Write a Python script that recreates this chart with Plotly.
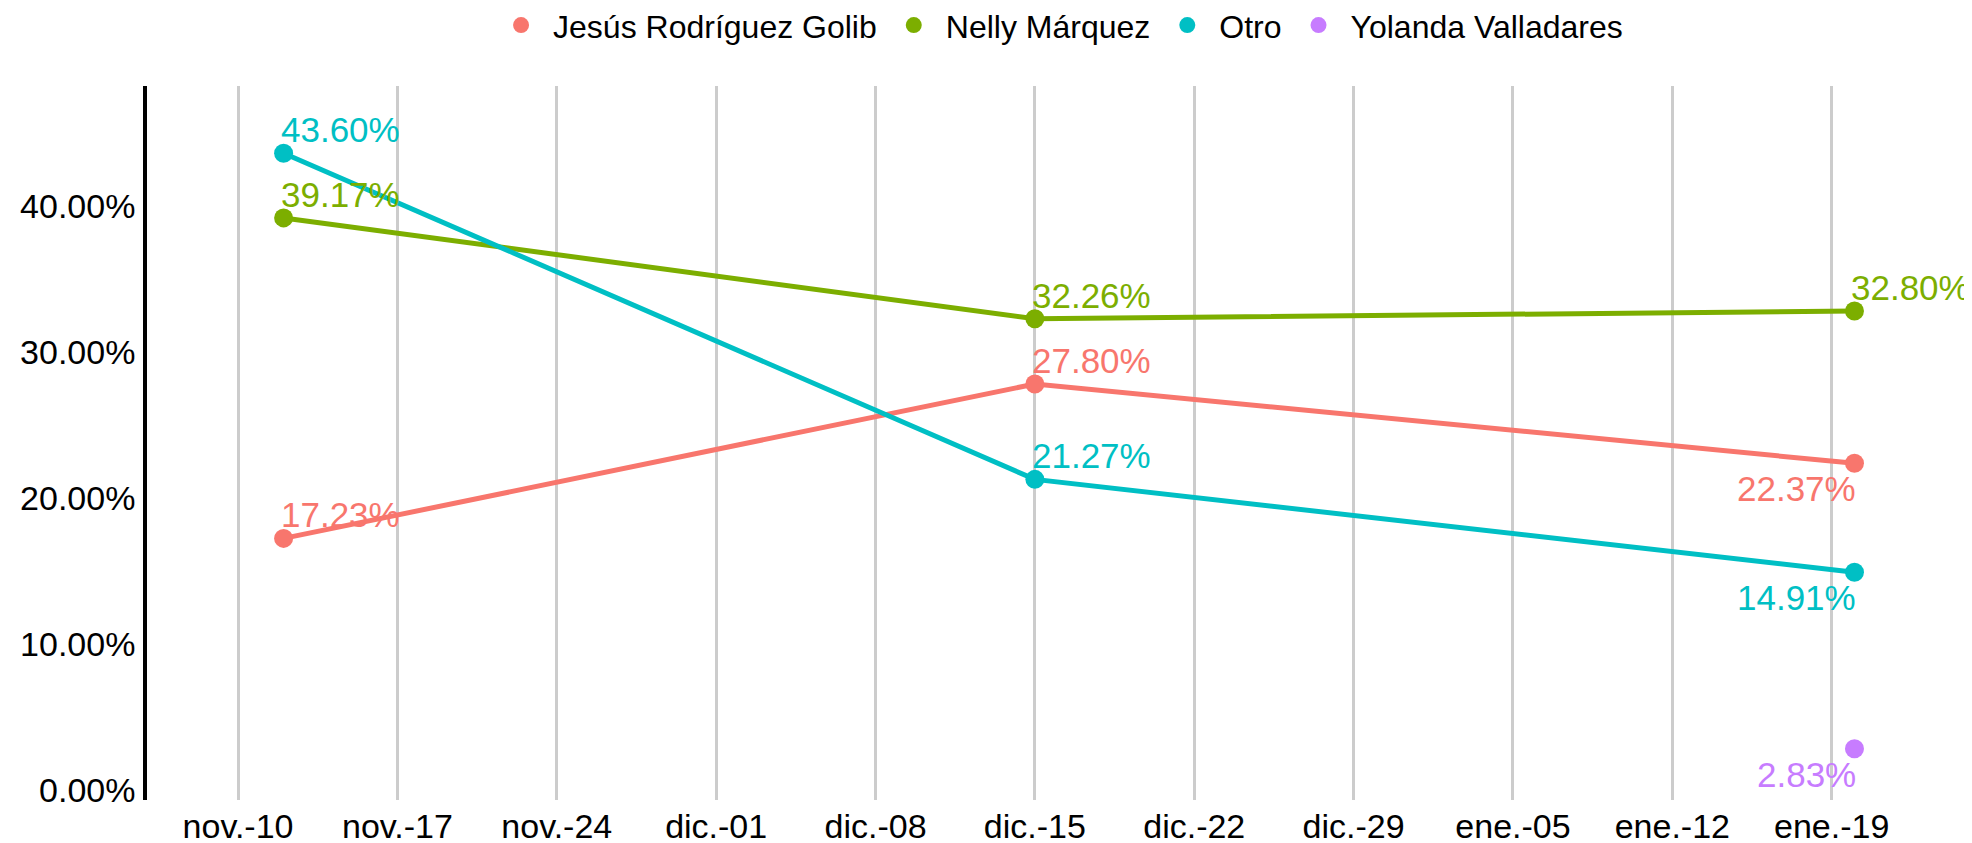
import plotly.graph_objects as go

dates = ["2020-11-12", "2020-12-15", "2021-01-20"]
candidates = ["Jesús Rodríguez Golib", "Nelly Márquez", "Otro", "Yolanda Valladares"]
colors = ["#F8766D", "#7CAE00", "#00BFC4", "#C77CFF"]
jesus = [17.23, 27.80, 22.37]
nelly = [39.17, 32.26, 32.80]
otro = [43.60, 21.27, 14.91]
yolanda_dates = ["2021-01-20"]
yolanda = [2.83]

tick_dates = ["2020-11-10", "2020-11-17", "2020-11-24", "2020-12-01", "2020-12-08",
              "2020-12-15", "2020-12-22", "2020-12-29", "2021-01-05", "2021-01-12", "2021-01-19"]
tick_text = ["nov.-10", "nov.-17", "nov.-24", "dic.-01", "dic.-08", "dic.-15",
             "dic.-22", "dic.-29", "ene.-05", "ene.-12", "ene.-19"]
y_ticks = [0, 10, 20, 30, 40]

FONT = "Liberation Sans, Arial, sans-serif"
fig = go.Figure()

# label placement style per point: "tr" = above/right, "bl" = below/left
series = [
    (candidates[0], dates, jesus, colors[0], ["tr", "tr", "bl"]),
    (candidates[1], dates, nelly, colors[1], ["tr", "tr", "tr"]),
    (candidates[2], dates, otro, colors[2], ["tr", "tr", "bl"]),
    (candidates[3], yolanda_dates, yolanda, colors[3], ["bl"]),
]

for name, xs, ys, col, pos in series:
    fig.add_trace(go.Scatter(
        x=xs, y=ys, name=name, mode="lines+markers",
        line=dict(color=col, width=5),
        marker=dict(color=col, size=19),
        showlegend=False, cliponaxis=False,
    ))
    fig.add_trace(go.Scatter(
        x=[None], y=[None], name=name, mode="markers",
        marker=dict(color=col, size=19), showlegend=True,
    ))
    for xv, yv, p in zip(xs, ys, pos):
        if p == "tr":
            fig.add_annotation(x=xv, y=yv, text=f"{yv:.2f}%", showarrow=False,
                               xanchor="left", yanchor="bottom", xshift=-5, yshift=2,
                               font=dict(color=col, size=35, family=FONT))
        else:
            fig.add_annotation(x=xv, y=yv, text=f"{yv:.2f}%", showarrow=False,
                               xanchor="right", yanchor="top", xshift=4, yshift=-4,
                               font=dict(color=col, size=35, family=FONT))

fig.update_layout(
    width=1972, height=843,
    margin=dict(l=139, r=80, t=78, b=51, autoexpand=False),
    paper_bgcolor="white", plot_bgcolor="white",
    font=dict(family=FONT, size=32, color="black"),
    legend=dict(orientation="h", x=0.52, xanchor="center", y=1.085, yanchor="middle",
                font=dict(size=32, family=FONT, color="black"), itemwidth=54),
    xaxis=dict(
        range=["2020-11-06", "2021-01-22"],
        tickvals=tick_dates, ticktext=tick_text,
        showgrid=True, gridcolor="#cccccc", gridwidth=2.5,
        showline=False, zeroline=False, ticks="",
        tickfont=dict(size=34, family=FONT, color="black"),
        ticklabelstandoff=3,
        automargin=False,
    ),
    yaxis=dict(
        range=[-0.68, 48.2],
        tickvals=y_ticks, ticktext=[f"{v:.2f}%" for v in y_ticks],
        showgrid=False, zeroline=False,
        showline=True, linecolor="black", linewidth=3.5,
        ticks="outside", ticklen=1, tickcolor="rgba(0,0,0,0)",
        tickfont=dict(size=34, family=FONT, color="black"),
        automargin=False,
    ),
)

fig.write_html("out.html")
